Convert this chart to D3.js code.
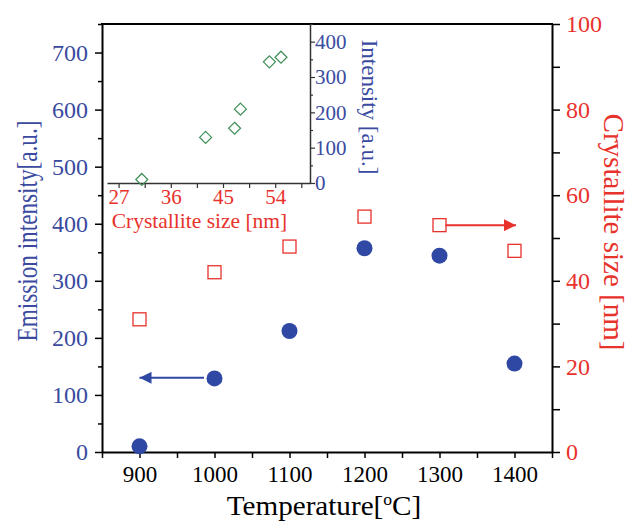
<!DOCTYPE html>
<html><head><meta charset="utf-8">
<script src="https://cdn.jsdelivr.net/npm/d3@7"></script>
<style>body{margin:0;background:#fff}svg{display:block}</style>
</head><body><svg id="c" width="630" height="523"></svg>
<script>
const temperatures = [900, 1000, 1100, 1200, 1300, 1400];
const emission = [10, 129, 212, 357, 344, 155];
const crystallite = [31, 42, 48, 55, 53, 47];
const xTicks = [900, 1000, 1100, 1200, 1300, 1400];
const yLeftTicks = [0, 100, 200, 300, 400, 500, 600, 700];
const yRightTicks = [0, 20, 40, 60, 80, 100];
const insetSize = [31, 42, 47, 48, 53, 55];
const insetIntensity = [10, 129, 155, 209, 343, 356];
const insetXTicks = [27, 36, 45, 54];
const insetYTicks = [0, 100, 200, 300, 400];

const BLUE = "#3a4b9f", DOT = "#2f48a3", RED = "#e8322c", GREEN = "#3d8f55";
const FONT = "'Liberation Serif','Times New Roman',serif";
const svg = d3.select("#c");
const L = 102, R = 552, T = 24, B = 452;
const x = d3.scaleLinear().domain([850, 1450]).range([L, R]);
const yL = d3.scaleLinear().domain([0, 750]).range([B, T]);
const yR = d3.scaleLinear().domain([0, 100]).range([B, T]);

function styleAxis(g, color, size) {
  g.selectAll(".domain").attr("stroke", "#000").attr("stroke-width", 2);
  g.selectAll(".tick line").attr("stroke", "#000").attr("stroke-width", 1.5);
  g.selectAll(".tick text").attr("fill", color).style("font-family", FONT).style("font-size", size + "px");
}
const gx = svg.append("g").attr("transform", `translate(0,${B})`)
  .call(d3.axisBottom(x).tickValues(d3.range(850, 1451, 50)).tickSize(6).tickFormat(d => xTicks.includes(d) ? d : "").tickSizeOuter(0));
styleAxis(gx, "#000", 23);
gx.selectAll(".tick text").attr("dy", "0.9em");
const gl = svg.append("g").attr("transform", `translate(${L},0)`)
  .call(d3.axisLeft(yL).tickValues(d3.range(0, 751, 50)).tickSize(7).tickFormat(d => yLeftTicks.includes(d) ? d : "").tickSizeOuter(0));
styleAxis(gl, BLUE, 24);
gl.selectAll(".tick line").attr("x2", d => yLeftTicks.includes(d) ? -7 : -4);
gl.selectAll(".tick text").attr("x", -14);
const gr = svg.append("g").attr("transform", `translate(${R},0)`)
  .call(d3.axisRight(yR).tickValues(d3.range(0, 101, 10)).tickSize(8).tickFormat(d => yRightTicks.includes(d) ? d : "").tickSizeOuter(0));
styleAxis(gr, RED, 24);
gr.selectAll(".tick text").attr("x", 14);
svg.append("line").attr("x1", L - 1).attr("x2", R + 1).attr("y1", T).attr("y2", T).attr("stroke", "#000").attr("stroke-width", 2);

// titles
svg.append("text").attr("transform", `translate(37,231) rotate(-90) scale(0.8,1)`).attr("text-anchor", "middle")
  .attr("fill", BLUE).style("font-family", FONT).style("font-size", "29px").text("Emission intensity[a.u.]");
svg.append("text").attr("transform", `translate(604,${(T + B) / 2 - 6}) rotate(90)`).attr("text-anchor", "middle")
  .attr("fill", RED).style("font-family", FONT).style("font-size", "29px").text("Crystallite size [nm]");
const xt = svg.append("text").attr("transform", `translate(${(L + R) / 2 - 3},515) scale(1.1,1)`).attr("text-anchor", "middle")
  .attr("fill", "#000").style("font-family", FONT).style("font-size", "26.5px");
xt.append("tspan").text("Temperature[");
xt.append("tspan").attr("dy", -10).style("font-size", "16px").text("o");
xt.append("tspan").attr("dy", 10).text("C]");

// arrows
const defs = svg.append("defs");
[["ab", DOT], ["ar", RED]].forEach(([id, c]) => {
  defs.append("marker").attr("id", id).attr("viewBox", "0 0 10 10").attr("refX", 10).attr("refY", 5)
    .attr("markerWidth", 8).attr("markerHeight", 6).attr("markerUnits", "strokeWidth").attr("orient", "auto")
    .append("path").attr("d", "M0,0L10,5L0,10Z").attr("fill", c);
});
svg.append("line").attr("x1", x(986)).attr("x2", x(900)).attr("y1", yL(130)).attr("y2", yL(130))
  .attr("stroke", DOT).attr("stroke-width", 2).attr("marker-end", "url(#ab)");
svg.append("line").attr("x1", x(1308)).attr("x2", x(1402)).attr("y1", yR(53)).attr("y2", yR(53))
  .attr("stroke", RED).attr("stroke-width", 2).attr("marker-end", "url(#ar)");

// data
svg.append("g").selectAll("rect").data(temperatures).join("rect")
  .attr("x", (d) => x(d) - 6.5).attr("y", (d, i) => yR(crystallite[i]) - 6.5).attr("width", 13).attr("height", 13)
  .attr("fill", "none").attr("stroke", RED).attr("stroke-width", 1.3);
svg.append("g").selectAll("circle").data(temperatures).join("circle")
  .attr("cx", d => x(d)).attr("cy", (d, i) => yL(emission[i])).attr("r", 8).attr("fill", DOT);

// inset
const iL = 107, iR = 310, iT = 24, iB = 183;
const ix = d3.scaleLinear().domain([25, 60]).range([iL, iR]);
const iy = d3.scaleLinear().domain([0, 450]).range([iB, iT]);
function styleInset(g, color) {
  g.selectAll(".domain").attr("stroke", "#333").attr("stroke-width", 1.5);
  g.selectAll(".tick line").attr("stroke", "#333").attr("stroke-width", 1.2);
  g.selectAll(".tick text").attr("fill", color).style("font-family", FONT).style("font-size", "21px");
}
const ixg = svg.append("g").attr("transform", `translate(0,${iB})`)
  .call(d3.axisBottom(ix).tickValues(d3.range(27, 60, 4.5)).tickSize(5).tickFormat(d => insetXTicks.includes(d) ? d : "").tickSizeOuter(0));
styleInset(ixg, RED);
ixg.selectAll(".tick text").attr("y", 6);
const iyg = svg.append("g").attr("transform", `translate(${iR},0)`)
  .call(d3.axisRight(iy).tickValues(d3.range(0, 451, 50)).tickSize(5).tickFormat(d => insetYTicks.includes(d) ? d : "").tickSizeOuter(0));
styleInset(iyg, BLUE);
iyg.selectAll(".tick line").attr("x2", d => insetYTicks.includes(d) ? 5 : 3);
iyg.selectAll(".tick text").attr("x", 5);
svg.append("text").attr("x", (iL + iR) / 2 - 9).attr("y", 228).attr("text-anchor", "middle")
  .attr("fill", RED).style("font-family", FONT).style("font-size", "21.5px").text("Crystallite size [nm]");
svg.append("text").attr("transform", `translate(362,107) rotate(90)`).attr("text-anchor", "middle")
  .attr("fill", BLUE).style("font-family", FONT).style("font-size", "23px").text("Intensity [a.u.]");
svg.append("g").selectAll("path").data(insetSize).join("path")
  .attr("transform", (d, i) => `translate(${ix(d)},${iy(insetIntensity[i])})`)
  .attr("d", "M0,-6L6,0L0,6L-6,0Z").attr("fill", "none").attr("stroke", GREEN).attr("stroke-width", 1.2);
</script></body></html>
